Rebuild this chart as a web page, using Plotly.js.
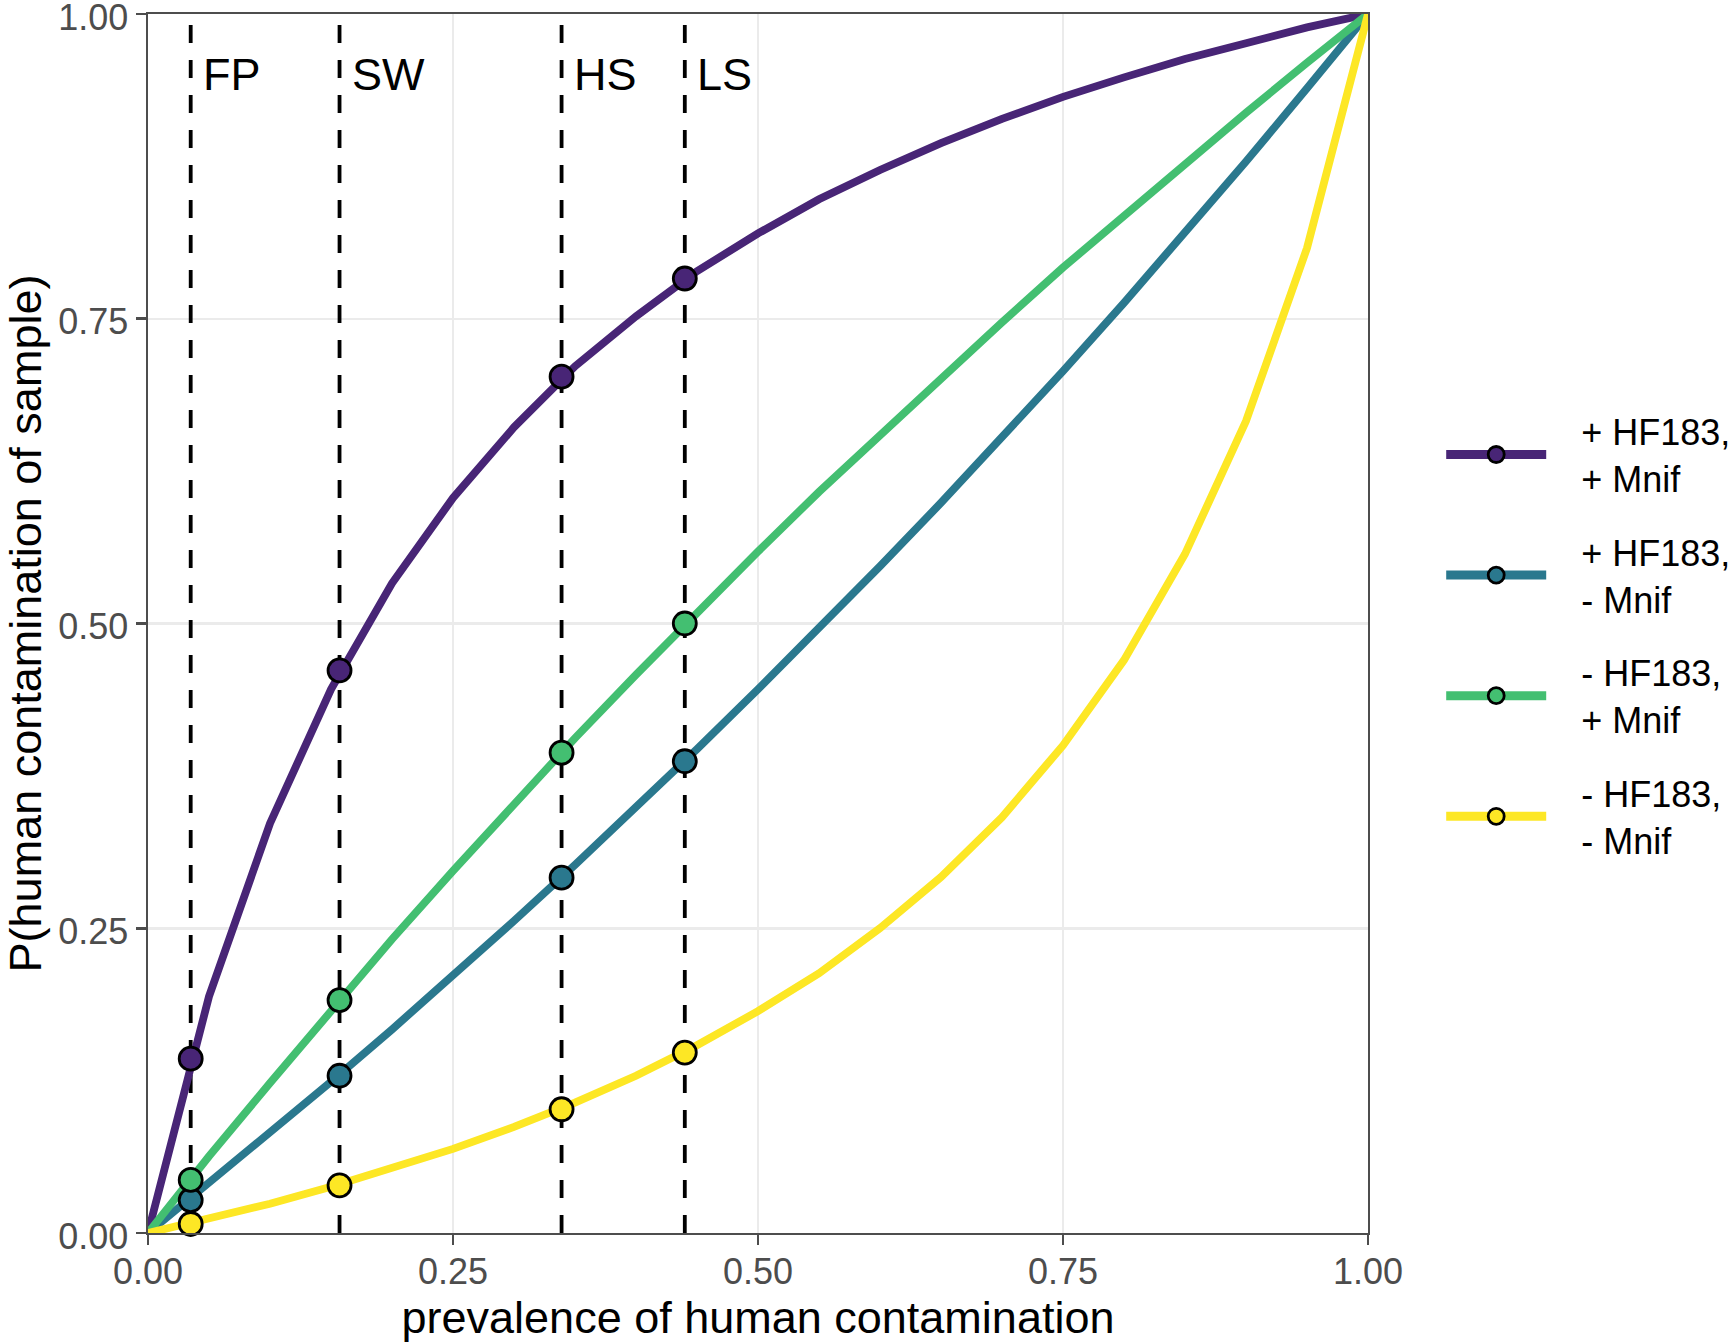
<!DOCTYPE html>
<html>
<head>
<meta charset="utf-8">
<script src="https://cdn.plot.ly/plotly-3.0.1.min.js"></script>
<style>html,body{margin:0;padding:0;background:#fff;}#chart{width:1729px;height:1344px;}</style>
</head>
<body>
<div id="chart"></div>
<script>
// prevalence grid (x) and P(human contamination of sample)
const prevalence = [0, 0.05, 0.10, 0.15, 0.20, 0.25, 0.30, 0.35, 0.40, 0.45, 0.50, 0.55, 0.60, 0.65, 0.70, 0.75, 0.80, 0.85, 0.90, 0.95, 1.00];
const posHFposMnif = [0, 0.194, 0.336, 0.446, 0.533, 0.603, 0.661, 0.711, 0.752, 0.789, 0.820, 0.848, 0.872, 0.894, 0.914, 0.932, 0.948, 0.963, 0.976, 0.989, 1.00];
const posHFnegMnif = [0, 0.041, 0.082, 0.124, 0.167, 0.211, 0.256, 0.302, 0.349, 0.397, 0.446, 0.496, 0.547, 0.599, 0.652, 0.707, 0.763, 0.820, 0.879, 0.939, 1.00];
const negHFposMnif = [0, 0.063, 0.123, 0.183, 0.241, 0.297, 0.352, 0.406, 0.458, 0.509, 0.559, 0.608, 0.655, 0.702, 0.747, 0.792, 0.835, 0.878, 0.919, 0.960, 1.00];
const negHFnegMnif = [0, 0.012, 0.024, 0.038, 0.053, 0.069, 0.087, 0.107, 0.129, 0.154, 0.182, 0.213, 0.250, 0.292, 0.341, 0.400, 0.470, 0.557, 0.666, 0.808, 1.00];

// sites (dashed lines) and the points on each curve
const siteNames = ['FP', 'SW', 'HS', 'LS'];
const siteX = [0.035, 0.157, 0.339, 0.440];
const dotsPosHFposMnif = [0.143, 0.4615, 0.7025, 0.783];
const dotsPosHFnegMnif = [0.027, 0.129, 0.2915, 0.387];
const dotsNegHFposMnif = [0.0435, 0.191, 0.394, 0.500];
const dotsNegHFnegMnif = [0.0074, 0.039, 0.1015, 0.148];

const seriesNames = ['+ HF183,<br>+ Mnif', '+ HF183,<br>- Mnif', '- HF183,<br>+ Mnif', '- HF183,<br>- Mnif'];
const seriesColors = ['#482576', '#2A788E', '#43BF71', '#FDE725'];
const curveY = [posHFposMnif, posHFnegMnif, negHFposMnif, negHFnegMnif];
const dotY = [dotsPosHFposMnif, dotsPosHFnegMnif, dotsNegHFposMnif, dotsNegHFnegMnif];

const FONT = 'Liberation Sans, Arial, Helvetica, sans-serif';
const NB = '\u00a0\u00a0\u00a0';
const traces = [];

// dashed site lines
siteX.forEach(function (sx) {
  traces.push({
    x: [sx, sx], y: [0, 1], mode: 'lines', type: 'scatter',
    line: {color: '#000000', width: 3.8, dash: '18px,17px'},
    showlegend: false, hoverinfo: 'skip'
  });
});

// curves
curveY.forEach(function (ys, i) {
  traces.push({
    x: prevalence, y: ys, mode: 'lines', type: 'scatter',
    line: {color: seriesColors[i], width: 7.8},
    showlegend: false, name: seriesNames[i]
  });
});

// points at sites
dotY.forEach(function (ys, i) {
  traces.push({
    x: siteX, y: ys, mode: 'markers', type: 'scatter',
    marker: {color: seriesColors[i], size: 23, line: {color: '#000000', width: 2.8}},
    showlegend: false, name: seriesNames[i], cliponaxis: false
  });
});

// legend entries
seriesNames.forEach(function (nm, i) {
  traces.push({
    x: [null], y: [null], mode: 'lines+markers', type: 'scatter',
    name: nm.split('<br>').map(function (s) { return NB + s; }).join('<br>'),
    legendgroup: 'g' + i,
    line: {color: seriesColors[i], width: 9},
    marker: {color: seriesColors[i], size: 24, line: {color: '#000000', width: 2.8}}
  });
});

const annotations = siteNames.map(function (nm, i) {
  return {
    x: siteX[i], y: 0.95, xref: 'x', yref: 'y', text: nm, showarrow: false,
    xanchor: 'left', yanchor: 'middle', xshift: 10,
    font: {family: FONT, size: 45, color: '#000000'}
  };
});

const axisCommon = {
  range: [0, 1], tickmode: 'array',
  tickvals: [0, 0.25, 0.5, 0.75, 1], ticktext: ['0.00', '0.25', '0.50', '0.75', '1.00'],
  showgrid: true, gridcolor: '#EBEBEB', gridwidth: 2.5,
  zeroline: false, showline: true, mirror: true, linecolor: '#4D4D4D', linewidth: 2.4,
  ticks: 'outside', ticklen: 10, tickwidth: 2.6, tickcolor: '#4D4D4D',
  tickfont: {family: FONT, size: 36, color: '#4D4D4D'},
  ticklabeloverflow: 'allow', automargin: false,
  fixedrange: true
};

const layout = {
  width: 1729, height: 1344,
  margin: {l: 148, r: 361, t: 14, b: 111, pad: 0, autoexpand: false},
  paper_bgcolor: '#ffffff', plot_bgcolor: '#ffffff',
  font: {family: FONT, color: '#000000'},
  xaxis: Object.assign({}, axisCommon, {
    ticklabelstandoff: -5,
    title: {text: 'prevalence of human contamination', font: {family: FONT, size: 45, color: '#000000'}, standoff: 10}
  }),
  yaxis: Object.assign({}, axisCommon, {
    ticklabelshift: 3,
    title: {text: 'P(human contamination of sample)', font: {family: FONT, size: 45, color: '#000000'}, standoff: 8}
  }),
  showlegend: true,
  legend: {
    x: 1.06, xanchor: 'left', y: 0.49, yanchor: 'middle',
    font: {family: FONT, size: 36, color: '#000000'},
    itemwidth: 100, tracegroupgap: 24, bgcolor: 'rgba(0,0,0,0)', borderwidth: 0
  },
  annotations: annotations
};

Plotly.newPlot('chart', traces, layout, {staticPlot: true, displayModeBar: false});
</script>
</body>
</html>
